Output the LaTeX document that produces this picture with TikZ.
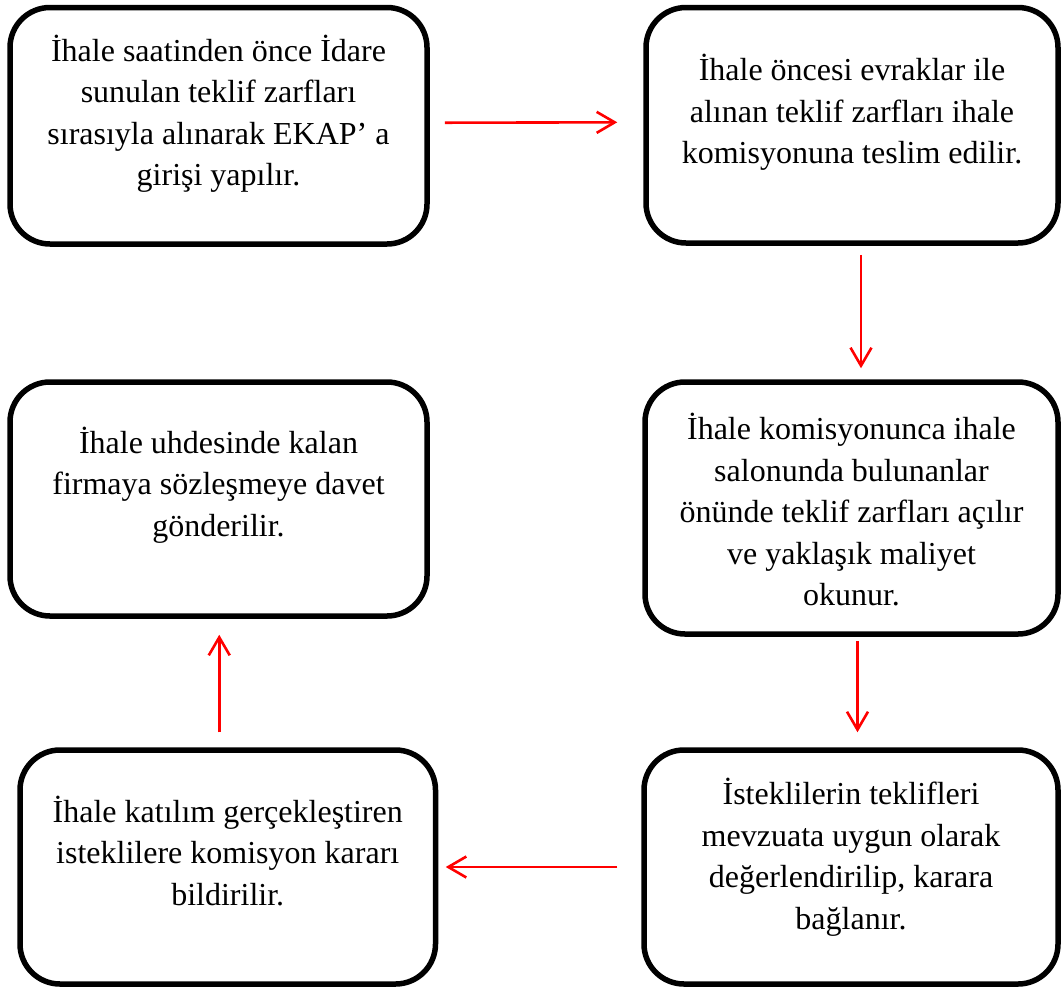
\documentclass[tikz,border=0pt]{standalone}
\usepackage{fontspec}
\setmainfont{Liberation Serif}
\usetikzlibrary{arrows.meta}
\begin{document}
\begin{tikzpicture}[x=1pt,y=-1pt,
  box/.style={draw, line width=5.5pt, rounded corners=40pt, inner sep=0pt},
  txt/.style={align=center, inner sep=0pt, font=\fontsize{32}{41.5}\selectfont},
  flow/.style={draw=red, line width=2.6pt, -{Straight Barb[length=18pt,width=21pt]}}]
\useasboundingbox (0,0) rectangle (1062,988);

% process boxes
\node[box, minimum width=417pt, minimum height=236.5pt] (b1) at (218.5,125.75) {};
\node[box, minimum width=412pt, minimum height=235.5pt] (b2) at (852,125.25) {};
\node[box, minimum width=413pt, minimum height=252pt] (b3) at (851.5,508) {};
\node[box, minimum width=414pt, minimum height=234pt] (b4) at (851,867) {};
\node[box, minimum width=415.5pt, minimum height=234pt] (b5) at (227.75,867) {};
\node[box, minimum width=417pt, minimum height=234pt] (b6) at (218.5,499) {};

% box texts
\node[txt] (t1) at ([yshift=12pt]b1.center) {İhale saatinden önce İdare\\sunulan teklif zarfları\\sırasıyla alınarak EKAP’ a\\girişi yapılır.};
\node[txt] (t2) at ([yshift=13pt]b2.center) {İhale öncesi evraklar ile\\alınan teklif zarfları ihale\\komisyonuna teslim edilir.};
\node[txt] (t3) at ([yshift=-2pt]b3.center) {İhale komisyonunca ihale\\salonunda bulunanlar\\önünde teklif zarfları açılır\\ve yaklaşık maliyet\\okunur.};
\node[txt] (t4) at ([yshift=10pt]b4.center) {İsteklilerin teklifleri\\mevzuata uygun olarak\\değerlendirilip, karara\\bağlanır.};
\node[txt] (t5) at ([yshift=16pt]b5.center) {İhale katılım gerçekleştiren\\isteklilere komisyon kararı\\bildirilir.};
\node[txt] (t6) at ([yshift=14pt]b6.center) {İhale uhdesinde kalan\\firmaya sözleşmeye davet\\gönderilir.};

% connectors
\draw[flow, shorten <=15pt, shorten >=26pt] ([yshift=3pt]b1.east) -- ([yshift=3pt]b2.west);
\draw[flow, shorten <=9pt, shorten >=11pt] ([xshift=9pt]b2.south) -- ([xshift=9pt]b2.south |- b3.north);
\draw[flow, shorten <=4pt, shorten >=15pt] ([xshift=6pt]b3.south) -- ([xshift=6pt]b3.south |- b4.north);
\draw[flow, shorten <=24pt, shorten >=7.5pt] (b4.west) -- (b5.east);
\draw[flow, shorten <=15pt, shorten >=16pt] ([xshift=-8.5pt]b5.north) -- ([xshift=-8.5pt]b5.north |- b6.south);
\end{tikzpicture}
\end{document}
